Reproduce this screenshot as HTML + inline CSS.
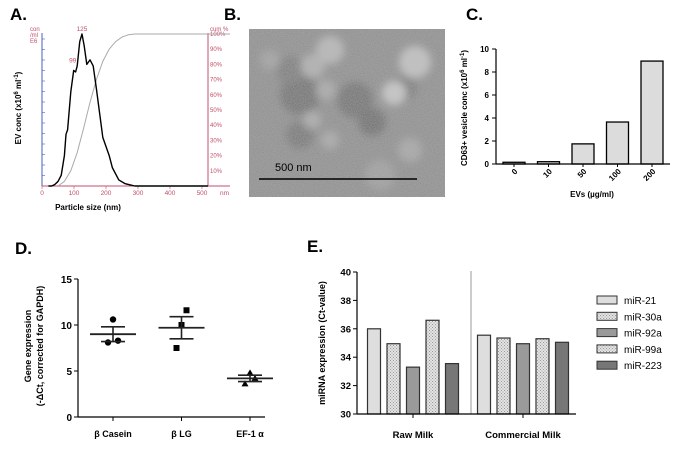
<!DOCTYPE html>
<html><head><meta charset="utf-8"><style>
html,body{margin:0;padding:0;background:#fff;}
svg{display:block;font-family:"Liberation Sans",Arial,sans-serif;}
</style></head><body>
<svg id="fig" width="683" height="462" viewBox="0 0 683 462">
<defs>
<filter id="noise" x="0" y="0" width="100%" height="100%">
<feTurbulence type="fractalNoise" baseFrequency="0.9" numOctaves="2" seed="3"/>
<feColorMatrix type="matrix" values="0 0 0 0 0.5  0 0 0 0 0.5  0 0 0 0 0.5  0 0 0 0.55 0"/>
</filter>
<filter id="blur4"><feGaussianBlur stdDeviation="4"/></filter>
<pattern id="dots" width="3" height="3" patternUnits="userSpaceOnUse">
<rect width="3" height="3" fill="#e4e4e4"/><rect width="1" height="1" fill="#999"/><rect x="1.5" y="1.5" width="1" height="1" fill="#999"/>
</pattern>
</defs>
<g font-weight="bold" font-size="17" fill="#000">
<text x="10" y="20">A.</text>
<text x="224" y="20">B.</text>
<text x="466" y="20">C.</text>
<text x="15" y="254">D.</text>
<text x="307" y="252">E.</text>
</g>
<g id="panelA"></g>
<g id="panelB">
<rect x="249" y="29" width="196" height="168" fill="#8d8d8d"/>
<g filter="url(#blur4)">
<circle cx="300" cy="95" r="20" fill="#6f6f6f"/><circle cx="355" cy="100" r="18" fill="#707070"/>
<circle cx="372" cy="122" r="14" fill="#6c6c6c"/><circle cx="300" cy="135" r="14" fill="#747474"/>
<circle cx="290" cy="70" r="14" fill="#7a7a7a"/><circle cx="405" cy="88" r="12" fill="#787878"/>
<circle cx="330" cy="50" r="14" fill="#b8b8b8"/><circle cx="313" cy="66" r="12" fill="#b0b0b0"/>
<circle cx="415" cy="62" r="16" fill="#c2c2c2"/><circle cx="394" cy="93" r="12" fill="#c8c8c8"/>
<circle cx="326" cy="90" r="10" fill="#a8a8a8"/><circle cx="312" cy="120" r="9" fill="#aaa"/>
<circle cx="330" cy="140" r="9" fill="#a8a8a8"/><circle cx="410" cy="150" r="12" fill="#a6a6a6"/>
<circle cx="270" cy="60" r="10" fill="#a0a0a0"/><circle cx="380" cy="175" r="15" fill="#9e9e9e"/>
</g>
<rect x="249" y="29" width="196" height="168" filter="url(#noise)"/>
<line x1="259" y1="179" x2="417" y2="179" stroke="#000" stroke-width="1.5"/>
<text x="275" y="171" font-size="11">500 nm</text>
</g>
<g id="panelC"></g>
<g id="panelD"></g>
<g id="panelE"></g>
</svg>
<script>
// ---- Panel A data
const aSizes = [20,30,40,50,60,70,75,80,90,99,105,110,118,125,132,140,150,160,170,180,190,200,210,220,240,260,290,600];
const aConc  = [0,0,0.01,0.03,0.07,0.2,0.34,0.37,0.62,0.76,0.75,0.79,0.95,1.0,0.92,0.8,0.83,0.79,0.64,0.48,0.32,0.26,0.2,0.12,0.04,0.015,0,0];
const aCumSizes = [50,70,90,110,130,150,170,190,210,230,250,270,290,600];
const aCumPct   = [0,3,10,22,38,55,70,82,90,95,98,99.5,100,100];
const aXTicks = [0,100,200,300,400,500];
const aPctTicks = [10,20,30,40,50,60,70,80,90,100];
// ---- Panel C data
const cCats = ["0","10","50","100","200"];
const cVals = [0.15,0.2,1.75,3.65,8.95];
const cTicks = [0,2,4,6,8,10];
// ---- Panel D data
const dCats = ["β Casein","β LG","EF-1 α"];
const dPoints = [[8.1,10.6,8.3],[7.5,10.0,11.6],[3.6,4.8,4.2]];
const dMeans = [9.0,9.7,4.2];
const dSem = [0.8,1.2,0.35];
const dTicks = [0,5,10,15];
// ---- Panel E data
const eGroups = ["Raw Milk","Commercial Milk"];
const eSeries = ["miR-21","miR-30a","miR-92a","miR-99a","miR-223"];
const eRaw = [36.0,34.95,33.3,36.6,33.55];
const eCommercial = [35.55,35.35,34.95,35.3,35.05];
const eTicks = [30,32,34,36,38,40];

const NS="http://www.w3.org/2000/svg";
function mk(parent,tag,attrs,txt){const e=document.createElementNS(NS,tag);for(const k in attrs)e.setAttribute(k,attrs[k]);if(txt!==undefined)e.textContent=txt;parent.appendChild(e);return e;}

// ===== Panel A
(function(){
const g=document.getElementById('panelA');
const x=v=>42+v*0.32, y=v=>186-v*152, yp=p=>186-p*1.52;
const red="#c0506a";
const ax=mk(g,'line',{x1:42,y1:33,x2:42,y2:186,stroke:"#4a5fc0","stroke-width":1});

for(let i=1;i<=14;i++){mk(g,'line',{x1:42,y1:186-i*10.5,x2:45,y2:186-i*10.5,stroke:"#4a5fc0","stroke-width":0.6});}
const xa=mk(g,'line',{x1:42,y1:186,x2:230,y2:186,stroke:red,"stroke-width":1});

const ra=mk(g,'line',{x1:208,y1:33,x2:208,y2:186,stroke:red,"stroke-width":1});

mk(g,'line',{x1:208,y1:34,x2:230,y2:34,stroke:"#888","stroke-width":0.8});
aXTicks.forEach(t=>{const l=mk(g,'text',{x:x(t),y:195,"font-size":6.5,fill:red,"text-anchor":"middle"},t);

mk(g,'line',{x1:x(t),y1:186,x2:x(t),y2:189,stroke:red,"stroke-width":0.6});});
mk(g,'text',{x:220,y:195,"font-size":6.5,fill:red},"nm");
aPctTicks.forEach(p=>{const l=mk(g,'text',{x:210,y:yp(p)+2,"font-size":6,fill:red},p+"%");
});
mk(g,'text',{x:30,y:31,"font-size":6,fill:red},"con");
mk(g,'text',{x:30,y:37,"font-size":6,fill:red},"/ml");
mk(g,'text',{x:30,y:43,"font-size":6,fill:red},"E6");
mk(g,'text',{x:210,y:31,"font-size":6,fill:red},"cum %");
mk(g,'text',{x:x(125),y:31,"font-size":6.5,fill:red,"text-anchor":"middle"},"125");
mk(g,'text',{x:x(99)-1,y:y(0.76)-8,"font-size":6.5,fill:red,"text-anchor":"middle"},"99");
let d="";aCumSizes.forEach((s,i)=>{d+=(i?"L":"M")+Math.min(x(s),230)+","+yp(aCumPct[i]);});
const cum=mk(g,'path',{d:d,fill:"none",stroke:"#aaa","stroke-width":1});

d="";aSizes.forEach((s,i)=>{d+=(i?"L":"M")+Math.min(x(s),208)+","+y(aConc[i]);});
const c=mk(g,'path',{d:d,fill:"none",stroke:"#000","stroke-width":1.4,"stroke-linejoin":"round"});

const yt=mk(g,'text',{transform:"translate(21,108) rotate(-90)","font-size":8,"font-weight":"bold","text-anchor":"middle"});
yt.innerHTML='EV conc (x10<tspan font-size="6" dy="-3">6</tspan><tspan dy="3"> ml</tspan><tspan font-size="6" dy="-3">-1</tspan><tspan dy="3">)</tspan>';

const xt=mk(g,'text',{x:88,y:210,"font-size":8,"font-weight":"bold","text-anchor":"middle"},"Particle size (nm)");

})();

// ===== Panel C
(function(){
const g=document.getElementById('panelC');
const y=v=>164-v*11.5, x0=514, step=34.5;
cTicks.forEach(t=>{mk(g,'line',{x1:492,y1:y(t),x2:496,y2:y(t),stroke:"#000"});
const l=mk(g,'text',{x:489,y:y(t)+3,"font-size":8,"font-weight":"bold","text-anchor":"end"},t);
});
cCats.forEach((c,i)=>{const cx=x0+i*step;
const b=mk(g,'rect',{x:cx-11,y:y(cVals[i]),width:22,height:164-y(cVals[i]),fill:"#dcdcdc",stroke:"#000","stroke-width":1.3});

mk(g,'line',{x1:cx,y1:164,x2:cx,y2:167,stroke:"#000"});
const l=mk(g,'text',{transform:`translate(${cx+4},${172}) rotate(-45)`,"font-size":8,"font-weight":"bold","text-anchor":"end"},c);
});
const ya=mk(g,'line',{x1:496,y1:49,x2:496,y2:164,stroke:"#000","stroke-width":1.2});

const xa=mk(g,'line',{x1:496,y1:164,x2:670,y2:164,stroke:"#000","stroke-width":1.2});

const yt=mk(g,'text',{transform:"translate(467,108) rotate(-90)","font-size":8,"font-weight":"bold","text-anchor":"middle"});
yt.innerHTML='CD63+ vesicle conc (x10<tspan font-size="6" dy="-3">6</tspan><tspan dy="3"> ml</tspan><tspan font-size="6" dy="-3">-1</tspan><tspan dy="3">)</tspan>';

const xt=mk(g,'text',{x:592,y:197,"font-size":8,"font-weight":"bold","text-anchor":"middle"},"EVs (µg/ml)");

})();

// ===== Panel D
(function(){
const g=document.getElementById('panelD');
const y=v=>417-v*9.2, x0=113, step=68.5;
dTicks.forEach(t=>{mk(g,'line',{x1:74,y1:y(t),x2:78,y2:y(t),stroke:"#000"});
const l=mk(g,'text',{x:72,y:y(t)+4,"font-size":10,"font-weight":"bold","text-anchor":"end"},t);
});
dCats.forEach((c,i)=>{const cx=x0+i*step;
mk(g,'line',{x1:cx,y1:417,x2:cx,y2:421,stroke:"#000"});
const l=mk(g,'text',{x:cx,y:437,"font-size":9,"font-weight":"bold","text-anchor":"middle"},c);

dPoints[i].forEach((v,j)=>{const px=cx+(j-1)*5;let m;
if(i===0)m=mk(g,'circle',{cx:px,cy:y(v),r:3.2,fill:"#000"});
else if(i===1)m=mk(g,'rect',{x:px-3,y:y(v)-3,width:6,height:6,fill:"#000"});
else m=mk(g,'path',{d:`M${px},${y(v)-3.5}L${px+3.5},${y(v)+2.5}L${px-3.5},${y(v)+2.5}Z`,fill:"#000"});
});
const mm=mk(g,'line',{x1:cx-23,y1:y(dMeans[i]),x2:cx+23,y2:y(dMeans[i]),stroke:"#222","stroke-width":1.8});

const hi=dMeans[i]+dSem[i],lo=dMeans[i]-dSem[i];
const eb=mk(g,'path',{d:`M${cx},${y(hi)}L${cx},${y(lo)}M${cx-12},${y(hi)}L${cx+12},${y(hi)}M${cx-12},${y(lo)}L${cx+12},${y(lo)}`,stroke:"#222","stroke-width":1.6,fill:"none"});
});
const ya=mk(g,'line',{x1:78,y1:279,x2:78,y2:417,stroke:"#000","stroke-width":1.2});

const xa=mk(g,'line',{x1:78,y1:417,x2:265,y2:417,stroke:"#000","stroke-width":1.2});

const t1=mk(g,'text',{transform:"translate(31,346) rotate(-90)","font-size":9,"font-weight":"bold","text-anchor":"middle"},"Gene expression");

const t2=mk(g,'text',{transform:"translate(43,346) rotate(-90)","font-size":9,"font-weight":"bold","text-anchor":"middle"},"(-ΔCt, corrected for GAPDH)");

})();

// ===== Panel E
(function(){
const g=document.getElementById('panelE');
const y=v=>414-(v-30)*14.2;
const fills=["#dedede","url(#dots)","#9a9a9a","url(#dots)","#777"];
const centers=[374,484], step=19.5, w=13;
eTicks.forEach(t=>{mk(g,'line',{x1:353,y1:y(t),x2:357,y2:y(t),stroke:"#000"});
const l=mk(g,'text',{x:351,y:y(t)+3.5,"font-size":9.5,"font-weight":"bold","text-anchor":"end"},t);
});
[eRaw,eCommercial].forEach((vals,gi)=>{vals.forEach((v,i)=>{const cx=centers[gi]+i*step;
const b=mk(g,'rect',{x:cx-w/2,y:y(v),width:w,height:414-y(v),fill:fills[i],stroke:"#333","stroke-width":1.2});
});
const gc=centers[gi]+2*step;
mk(g,'line',{x1:gc,y1:414,x2:gc,y2:418,stroke:"#000"});
const l=mk(g,'text',{x:gc,y:438,"font-size":9.5,"font-weight":"bold","text-anchor":"middle"},eGroups[gi]);
});
const dv=mk(g,'line',{x1:471,y1:271,x2:471,y2:414,stroke:"#999","stroke-width":1});

const ya=mk(g,'line',{x1:357,y1:272,x2:357,y2:414,stroke:"#000","stroke-width":1.2});

const xa=mk(g,'line',{x1:357,y1:414,x2:576,y2:414,stroke:"#000","stroke-width":1.2});

const yt=mk(g,'text',{transform:"translate(325,343) rotate(-90)","font-size":9,"font-weight":"bold","text-anchor":"middle"},"miRNA expression (Ct-value)");

eSeries.forEach((s,i)=>{const ly=300+i*16.3;
const le=mk(g,'g',{});

mk(le,'rect',{x:597,y:ly-4,width:20,height:8,fill:fills[i],stroke:"#333","stroke-width":1});
mk(le,'text',{x:624,y:ly+4,"font-size":10},s);});
})();
</script>
</body></html>
